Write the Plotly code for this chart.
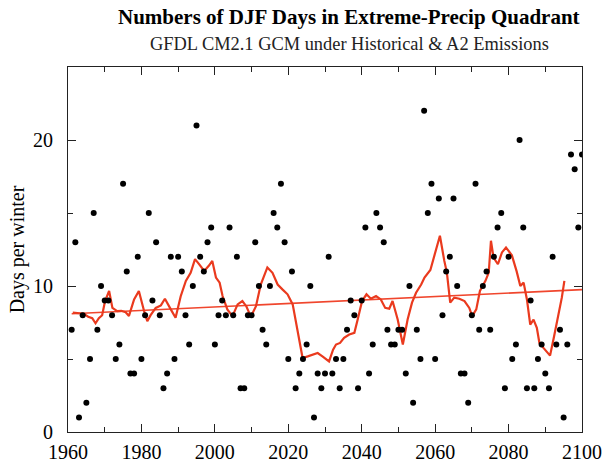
import plotly.graph_objects as go

# Winter (DJF) counts of days falling in the extreme-precipitation quadrant
years = list(range(1961, 2101))
days = [
    7, 13, 1, 8, 2, 5, 15, 7, 10, 9,          # 1961-1970
    9, 8, 5, 6, 17, 11, 4, 4, 12, 5,          # 1971-1980
    8, 15, 9, 13, 8, 3, 4, 12, 5, 12,         # 1981-1990
    11, 8, 6, 10, 21, 12, 11, 13, 14, 6,      # 1991-2000
    8, 9, 8, 14, 8, 12, 3, 3, 8, 8,           # 2001-2010
    13, 10, 7, 6, 10, 15, 14, 17, 13, 5,      # 2011-2020
    11, 3, 4, 5, 6, 10, 1, 4, 3, 4,           # 2021-2030
    12, 4, 5, 3, 5, 7, 9, 8, 3, 9,            # 2031-2040
    14, 4, 6, 15, 14, 13, 7, 6, 6, 7,         # 2041-2050
    7, 4, 10, 2, 7, 5, 22, 15, 17, 5,         # 2051-2060
    16, 8, 11, 12, 16, 10, 4, 4, 2, 8,        # 2061-2070
    17, 7, 10, 11, 7, 12, 14, 15, 3, 12,      # 2071-2080
    5, 6, 20, 14, 3, 9, 3, 5, 6, 4,           # 2081-2090
    3, 12, 6, 7, 1, 6, 19, 18, 14, 19,        # 2091-2100
]

# Smoothed series (running mean)
smooth_years = [
    1961.3, 1964.3, 1965.5, 1966.6, 1967.5, 1968.4, 1969.3, 1970.1, 1971.2, 1972.1,
    1973.4, 1974.5, 1975.7, 1976.6, 1978.0, 1979.3, 1980.7, 1981.6, 1982.5, 1983.9,
    1985.3, 1986.4, 1988.0, 1989.3, 1990.7, 1992.1, 1993.4, 1994.6, 1995.7, 1997.1,
    1998.4, 1999.3, 2000.3, 2001.3, 2002.1, 2003.4, 2004.8, 2006.2, 2007.5, 2008.6,
    2009.8, 2011.2, 2012.5, 2014.3, 2015.7, 2017.1, 2018.4, 2019.8, 2021.2, 2022.5,
    2023.9, 2025.3, 2026.6, 2028.0, 2029.3, 2031.1, 2032.2, 2033.0, 2034.1, 2035.2,
    2036.6, 2038.0, 2038.9, 2040.1, 2041.3, 2042.5, 2043.9, 2045.2, 2046.4, 2047.5,
    2048.4, 2049.8, 2051.2, 2052.5, 2053.7, 2054.8, 2056.2, 2057.1, 2058.7, 2060.2,
    2061.3, 2062.5, 2063.2, 2064.1, 2065.2, 2066.6, 2068.0, 2069.3, 2070.1, 2071.2,
    2072.2, 2073.7, 2074.6, 2075.2, 2075.9, 2077.1, 2078.2, 2079.3, 2080.9, 2082.2,
    2083.2, 2084.1, 2085.0, 2085.9, 2086.8, 2087.7, 2088.4, 2089.5, 2091.3, 2092.4,
    2093.6, 2094.5, 2095.2,
]
smooth_days = [
    8.17, 8.1, 7.9, 7.8, 7.45, 7.8, 8.0, 8.97, 9.66, 8.5,
    8.28, 8.3, 8.2, 7.95, 9.08, 9.66, 8.3, 7.59, 8.0, 8.5,
    8.67, 9.13, 8.4, 7.83, 9.3, 10.35, 10.9, 11.84, 11.5, 11.03,
    11.4, 11.72, 10.58, 10.23, 9.31, 8.4, 7.94, 8.74, 8.97, 8.6,
    7.9, 8.62, 10.1, 11.27, 10.9, 10.1, 9.77, 9.43, 8.74, 7.02,
    5.07, 5.18, 5.3, 5.41, 5.18, 4.84, 5.64, 5.99, 6.1, 6.45,
    6.68, 6.79, 7.7, 8.97, 9.43, 9.13, 9.31, 9.08, 8.5, 8.44,
    8.97, 7.7, 5.99, 7.7, 8.86, 9.54, 10.1, 10.58, 11.1, 12.5,
    13.44, 11.72, 10.92, 8.86, 9.2, 9.13, 8.97, 8.5, 7.94, 8.4,
    9.66, 10.35, 10.92, 13.1, 11.95, 11.49, 12.3, 12.64, 12.1, 11.0,
    10.0, 10.23, 9.08, 7.36, 7.7, 7.13, 6.1, 5.76, 5.23, 6.56,
    7.94, 9.2, 10.35,
]

# Linear trend endpoints
trend_years = [1961, 2100]
trend_days = [8.1, 9.75]

x_ticks = [1960, 1980, 2000, 2020, 2040, 2060, 2080, 2100]
y_ticks = [0, 10, 20]

SERIF = "Liberation Serif, Times New Roman, serif"

fig = go.Figure()
fig.add_trace(go.Scatter(
    x=trend_years, y=trend_days, mode="lines",
    line=dict(color="#f0462d", width=1.6), hoverinfo="skip",
))
fig.add_trace(go.Scatter(
    x=smooth_years, y=smooth_days, mode="lines",
    line=dict(color="#ea3a1e", width=2.2),
))
fig.add_trace(go.Scatter(
    x=years, y=days, mode="markers",
    marker=dict(color="black", size=6),
))

axis_common = dict(
    showgrid=False, zeroline=False, showline=True, linecolor="#222",
    linewidth=1, mirror="allticks", ticks="inside", ticklen=8,
    tickcolor="#222", tickwidth=1, automargin=False,
    tickfont=dict(family=SERIF, size=20, color="black"),
)

fig.update_xaxes(
    range=[1960, 2100], tickvals=x_ticks, ticktext=[str(v) for v in x_ticks],
    minor=dict(ticks="inside", ticklen=5, dtick=10, tick0=1960, tickcolor="#222"),
    ticklabelstandoff=2,
    **axis_common,
)
fig.update_yaxes(
    range=[0, 25], tickvals=y_ticks, ticktext=[str(v) for v in y_ticks],
    minor=dict(ticks="inside", ticklen=5, dtick=5, tick0=0, tickcolor="#222"),
    title=dict(text="Days per winter", font=dict(family=SERIF, size=20, color="black"), standoff=3),
    ticklabelstandoff=10,
    **axis_common,
)

fig.add_annotation(
    text="<b>Numbers of DJF Days in Extreme-Precip Quadrant</b>",
    xref="paper", yref="paper", x=0.547, y=1.137,
    xanchor="center", yanchor="middle", showarrow=False,
    font=dict(family=SERIF, size=21, color="black"),
)
fig.add_annotation(
    text="GFDL CM2.1 GCM under Historical &amp; A2 Emissions",
    xref="paper", yref="paper", x=0.547, y=1.063,
    xanchor="center", yanchor="middle", showarrow=False,
    font=dict(family=SERIF, size=18.4, color="#222"),
)

fig.update_layout(
    width=608, height=462,
    margin=dict(l=68, r=26, t=67, b=30),
    paper_bgcolor="white", plot_bgcolor="white",
    showlegend=False,
)

fig.write_html("out.html")
